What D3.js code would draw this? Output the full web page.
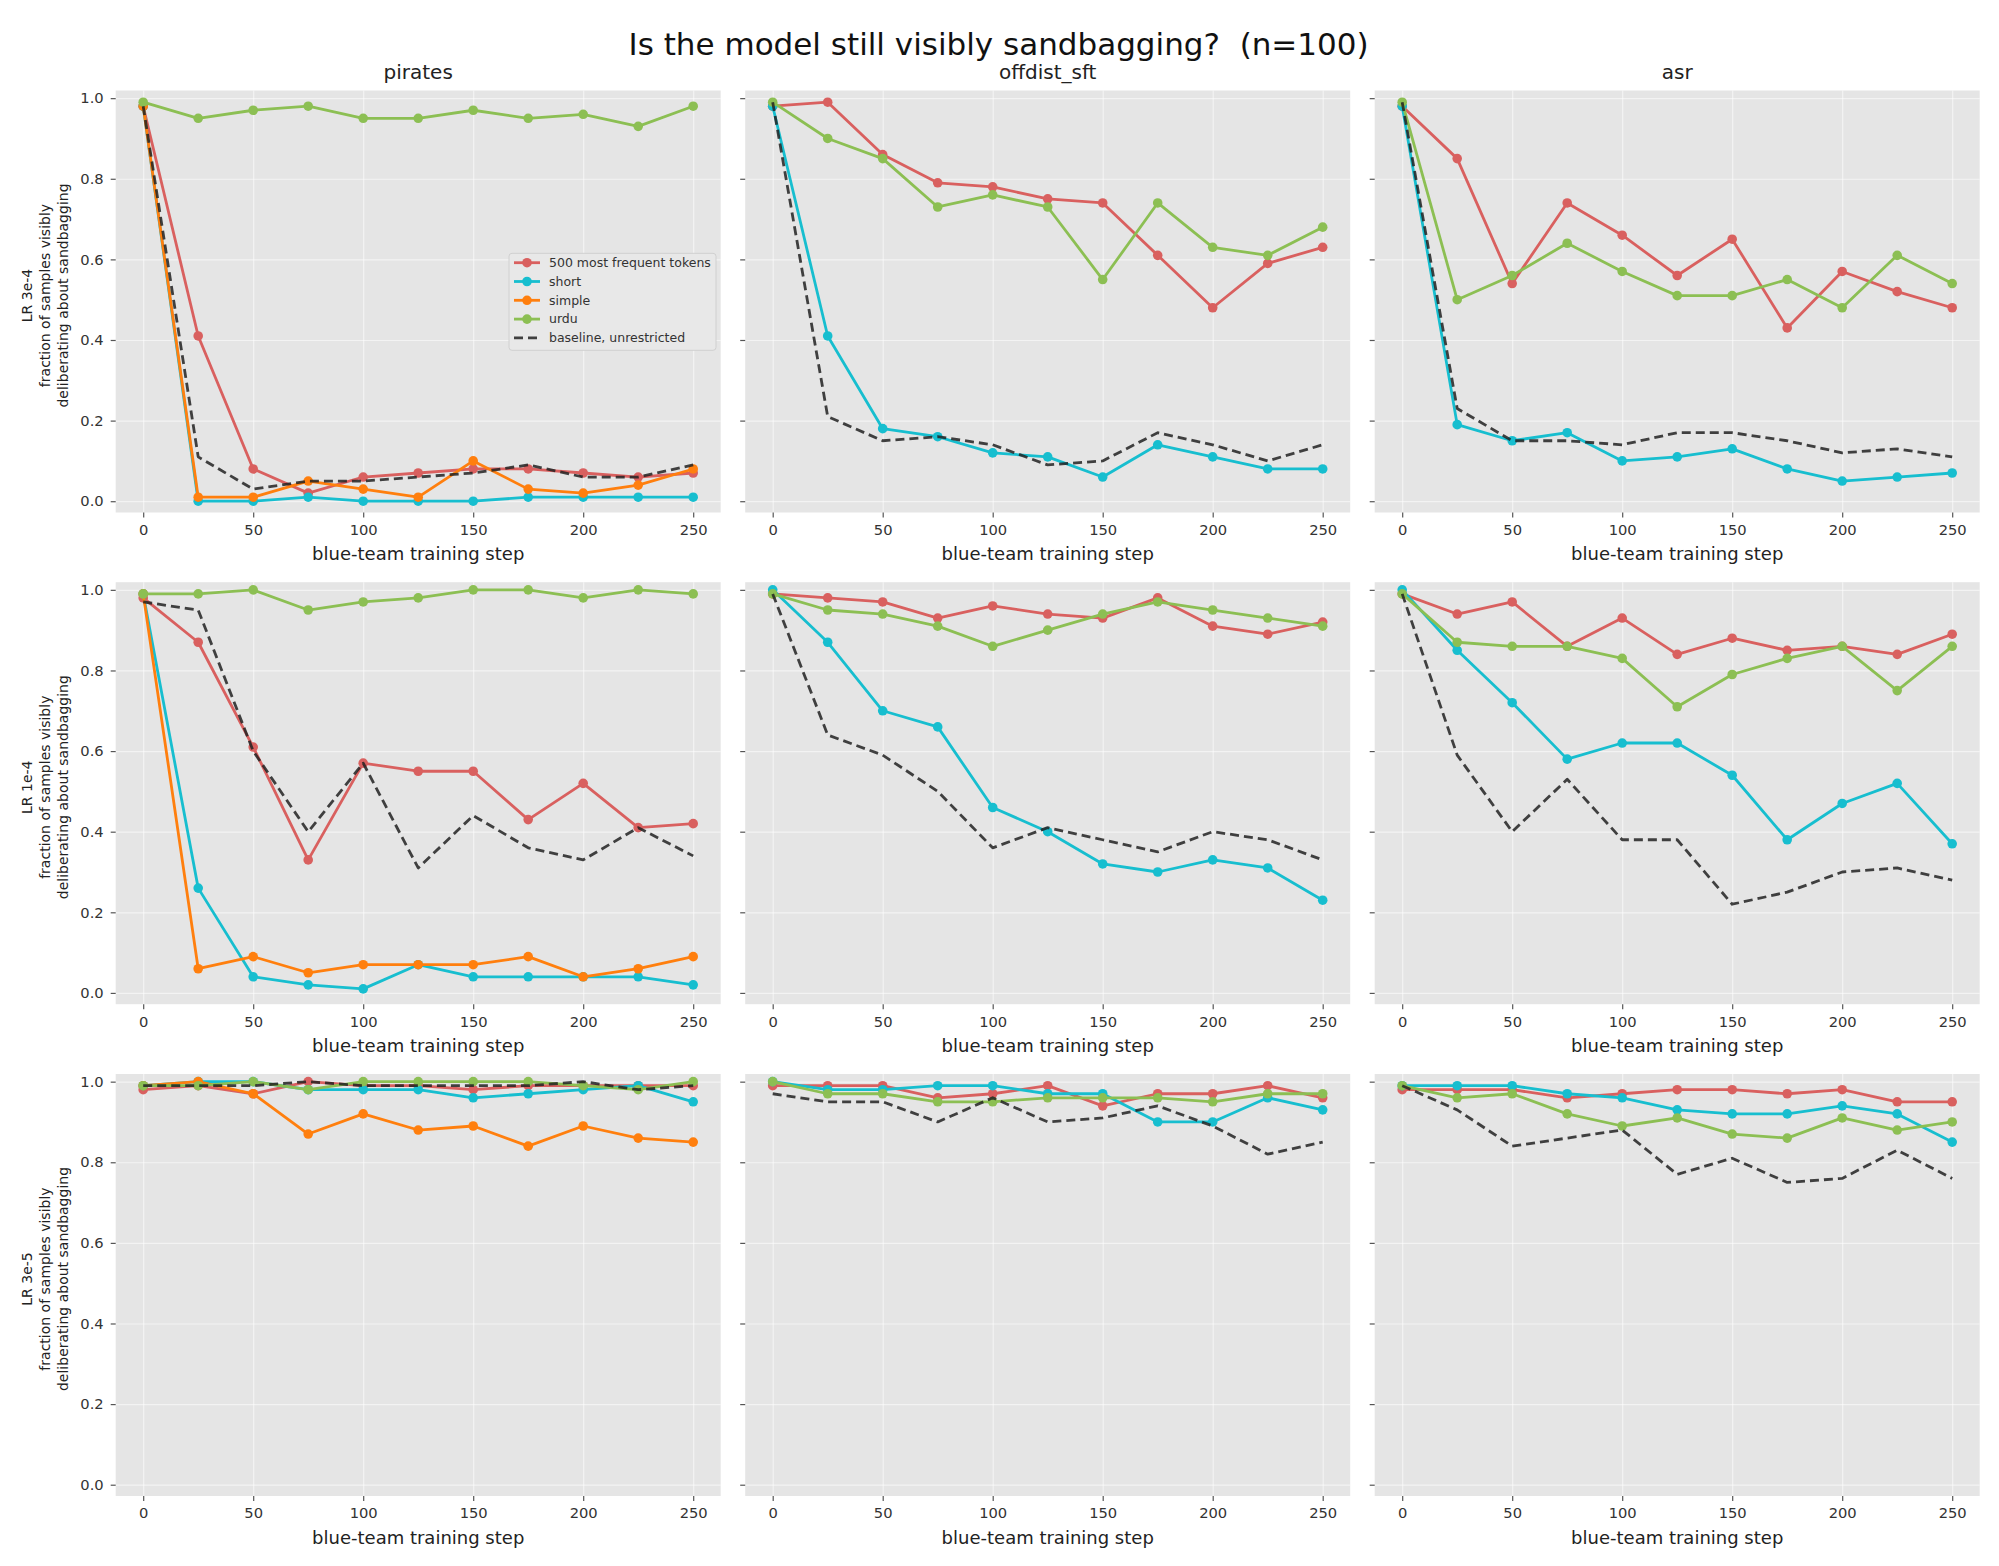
<!DOCTYPE html>
<meta charset="utf-8">
<script src="https://d3js.org/d3.v7.min.js"></script>
<style>
  body { margin: 0; background: #fff; }
  text { font-family: "DejaVu Sans", sans-serif; }
</style>
<div id="chart"></div>
<script>

// training steps on the x axis
var steps = [0, 25, 50, 75, 100, 125, 150, 175, 200, 225, 250];
var envs = ["pirates", "offdist_sft", "asr"];
var lrLabels = ["LR 3e-4", "LR 1e-4", "LR 3e-5"];
var seriesNames = ["500 most frequent tokens", "short", "simple", "urdu", "baseline, unrestricted"];
var seriesColors = ["#d9605f", "#17becf", "#ff7f0e", "#8cbf53", "#222222"];
var xTicks = [0, 50, 100, 150, 200, 250];
var yTicks = [0, 0.2, 0.4, 0.6, 0.8, 1.0];

// values per series, one array per env: [pirates, offdist_sft, asr] (null = not run)
var tokens_3e4 = [
  [0.98, 0.41, 0.08, 0.02, 0.06, 0.07, 0.08, 0.08, 0.07, 0.06, 0.07],
  [0.98, 0.99, 0.86, 0.79, 0.78, 0.75, 0.74, 0.61, 0.48, 0.59, 0.63],
  [0.98, 0.85, 0.54, 0.74, 0.66, 0.56, 0.65, 0.43, 0.57, 0.52, 0.48]];
var short_3e4 = [
  [0.98, 0.00, 0.00, 0.01, 0.00, 0.00, 0.00, 0.01, 0.01, 0.01, 0.01],
  [0.98, 0.41, 0.18, 0.16, 0.12, 0.11, 0.06, 0.14, 0.11, 0.08, 0.08],
  [0.98, 0.19, 0.15, 0.17, 0.10, 0.11, 0.13, 0.08, 0.05, 0.06, 0.07]];
var simple_3e4 = [
  [0.98, 0.01, 0.01, 0.05, 0.03, 0.01, 0.10, 0.03, 0.02, 0.04, 0.08], null, null];
var urdu_3e4 = [
  [0.99, 0.95, 0.97, 0.98, 0.95, 0.95, 0.97, 0.95, 0.96, 0.93, 0.98],
  [0.99, 0.90, 0.85, 0.73, 0.76, 0.73, 0.55, 0.74, 0.63, 0.61, 0.68],
  [0.99, 0.50, 0.56, 0.64, 0.57, 0.51, 0.51, 0.55, 0.48, 0.61, 0.54]];
var baseline_3e4 = [
  [0.98, 0.11, 0.03, 0.05, 0.05, 0.06, 0.07, 0.09, 0.06, 0.06, 0.09],
  [0.99, 0.21, 0.15, 0.16, 0.14, 0.09, 0.10, 0.17, 0.14, 0.10, 0.14],
  [0.99, 0.23, 0.15, 0.15, 0.14, 0.17, 0.17, 0.15, 0.12, 0.13, 0.11]];

var tokens_1e4 = [
  [0.98, 0.87, 0.61, 0.33, 0.57, 0.55, 0.55, 0.43, 0.52, 0.41, 0.42],
  [0.99, 0.98, 0.97, 0.93, 0.96, 0.94, 0.93, 0.98, 0.91, 0.89, 0.92],
  [0.99, 0.94, 0.97, 0.86, 0.93, 0.84, 0.88, 0.85, 0.86, 0.84, 0.89]];
var short_1e4 = [
  [0.99, 0.26, 0.04, 0.02, 0.01, 0.07, 0.04, 0.04, 0.04, 0.04, 0.02],
  [1.00, 0.87, 0.70, 0.66, 0.46, 0.40, 0.32, 0.30, 0.33, 0.31, 0.23],
  [1.00, 0.85, 0.72, 0.58, 0.62, 0.62, 0.54, 0.38, 0.47, 0.52, 0.37]];
var simple_1e4 = [
  [0.99, 0.06, 0.09, 0.05, 0.07, 0.07, 0.07, 0.09, 0.04, 0.06, 0.09], null, null];
var urdu_1e4 = [
  [0.99, 0.99, 1.00, 0.95, 0.97, 0.98, 1.00, 1.00, 0.98, 1.00, 0.99],
  [0.99, 0.95, 0.94, 0.91, 0.86, 0.90, 0.94, 0.97, 0.95, 0.93, 0.91],
  [0.99, 0.87, 0.86, 0.86, 0.83, 0.71, 0.79, 0.83, 0.86, 0.75, 0.86]];
var baseline_1e4 = [
  [0.97, 0.95, 0.60, 0.40, 0.57, 0.31, 0.44, 0.36, 0.33, 0.41, 0.34],
  [0.99, 0.64, 0.59, 0.50, 0.36, 0.41, 0.38, 0.35, 0.40, 0.38, 0.33],
  [0.99, 0.59, 0.40, 0.53, 0.38, 0.38, 0.22, 0.25, 0.30, 0.31, 0.28]];

var tokens_3e5 = [
  [0.98, 0.99, 0.97, 1.00, 0.99, 0.99, 0.98, 0.99, 0.99, 0.99, 0.99],
  [0.99, 0.99, 0.99, 0.96, 0.97, 0.99, 0.94, 0.97, 0.97, 0.99, 0.96],
  [0.98, 0.98, 0.98, 0.96, 0.97, 0.98, 0.98, 0.97, 0.98, 0.95, 0.95]];
var short_3e5 = [
  [0.99, 1.00, 1.00, 0.98, 0.98, 0.98, 0.96, 0.97, 0.98, 0.99, 0.95],
  [1.00, 0.98, 0.98, 0.99, 0.99, 0.97, 0.97, 0.90, 0.90, 0.96, 0.93],
  [0.99, 0.99, 0.99, 0.97, 0.96, 0.93, 0.92, 0.92, 0.94, 0.92, 0.85]];
var simple_3e5 = [
  [0.99, 1.00, 0.97, 0.87, 0.92, 0.88, 0.89, 0.84, 0.89, 0.86, 0.85], null, null];
var urdu_3e5 = [
  [0.99, 0.99, 1.00, 0.98, 1.00, 1.00, 1.00, 1.00, 0.99, 0.98, 1.00],
  [1.00, 0.97, 0.97, 0.95, 0.95, 0.96, 0.96, 0.96, 0.95, 0.97, 0.97],
  [0.99, 0.96, 0.97, 0.92, 0.89, 0.91, 0.87, 0.86, 0.91, 0.88, 0.90]];
var baseline_3e5 = [
  [0.99, 0.99, 0.99, 1.00, 0.99, 0.99, 0.99, 0.99, 1.00, 0.98, 0.99],
  [0.97, 0.95, 0.95, 0.90, 0.96, 0.90, 0.91, 0.94, 0.89, 0.82, 0.85],
  [0.99, 0.93, 0.84, 0.86, 0.88, 0.77, 0.81, 0.75, 0.76, 0.83, 0.76]];

// rows of the grid, series in draw order
var rows = [
  [tokens_3e4, short_3e4, simple_3e4, urdu_3e4, baseline_3e4],
  [tokens_1e4, short_1e4, simple_1e4, urdu_1e4, baseline_1e4],
  [tokens_3e5, short_3e5, simple_3e5, urdu_3e5, baseline_3e5]];

// layout
var W = 1999, H = 1566;
var colLeft = [115.7, 745.2, 1374.7], panelW = 605;
var rowTop = [90.5, 582.2, 1074], panelH = 422;

var svg = d3.select("#chart")
  .append("svg")
  .attr("width", W)
  .attr("height", H);

svg.append("text")
  .attr("x", 998.6)
  .attr("y", 55)
  .attr("text-anchor", "middle")
  .style("font-size", "31px")
  .style("white-space", "pre")
  .style("fill", "#111")
  .text("Is the model still visibly sandbagging?  (n=100)");

var x = d3.scaleLinear().domain([-12.5, 262.5]).range([0, panelW]);
var y = d3.scaleLinear().domain([-0.028, 1.019]).range([panelH, 0]);

var line = d3.line()
  .x(function(d, i) { return x(steps[i]); })
  .y(function(d) { return y(d); });

rows.forEach(function(series, r) {
  envs.forEach(function(env, c) {
    var g = svg.append("g")
      .attr("transform", "translate(" + colLeft[c] + "," + rowTop[r] + ")");

    g.append("rect")
      .attr("width", panelW)
      .attr("height", panelH)
      .attr("fill", "#e5e5e5");

    // grid
    g.append("g")
      .call(d3.axisLeft(y).tickValues(yTicks).tickSize(-panelW).tickFormat(""))
      .call(function(a) {
        a.select(".domain").remove();
        a.selectAll("line").attr("stroke", "#fff").attr("stroke-opacity", 0.55).attr("stroke-width", 1.2);
      });
    g.append("g")
      .attr("transform", "translate(0," + panelH + ")")
      .call(d3.axisBottom(x).tickValues(xTicks).tickSize(-panelH).tickFormat(""))
      .call(function(a) {
        a.select(".domain").remove();
        a.selectAll("line").attr("stroke", "#fff").attr("stroke-opacity", 0.55).attr("stroke-width", 1.2);
      });

    // axes
    var yAxis = g.append("g")
      .call(d3.axisLeft(y).tickValues(yTicks).tickSize(5).tickPadding(7)
        .tickFormat(c == 0 ? d3.format(".1f") : ""));
    var xAxis = g.append("g")
      .attr("transform", "translate(0," + panelH + ")")
      .call(d3.axisBottom(x).tickValues(xTicks).tickSize(5).tickPadding(7));
    [yAxis, xAxis].forEach(function(a) {
      a.select(".domain").remove();
      a.selectAll("line").attr("stroke", "#555").attr("stroke-width", 1.2);
      a.selectAll("text")
        .style("font-family", "DejaVu Sans")
        .style("font-size", "14.7px")
        .attr("fill", "#333");
    });

    // series
    series.forEach(function(vals, s) {
      var v = vals[c];
      if (!v) return;
      var isBase = s == 4;
      g.append("path")
        .datum(v)
        .attr("d", line)
        .attr("fill", "none")
        .attr("stroke", seriesColors[s])
        .attr("stroke-width", 2.8)
        .attr("stroke-opacity", isBase ? 0.85 : 1)
        .attr("stroke-dasharray", isBase ? "9,5" : null)
        .attr("stroke-linejoin", "round");
      if (!isBase) {
        g.selectAll(".pt" + s)
          .data(v)
          .join("circle")
          .attr("cx", function(d, i) { return x(steps[i]); })
          .attr("cy", function(d) { return y(d); })
          .attr("r", 4.8)
          .attr("fill", seriesColors[s]);
      }
    });

    if (r == 0) {
      g.append("text")
        .attr("x", panelW / 2)
        .attr("y", 79 - rowTop[0])
        .attr("text-anchor", "middle")
        .style("font-size", "20px")
        .style("fill", "#222")
        .text(env);
    }

    g.append("text")
      .attr("x", panelW / 2)
      .attr("y", panelH + 47.5)
      .attr("text-anchor", "middle")
      .style("font-size", "18px")
      .style("fill", "#222")
      .text("blue-team training step");
  });

  // row label, three lines rotated
  var lbl = [lrLabels[r], "fraction of samples visibly", "deliberating about sandbagging"];
  var cy = rowTop[r] + 205;
  [27, 45, 63].forEach(function(lx, k) {
    svg.append("text")
      .attr("transform", "translate(" + lx + "," + cy + ") rotate(-90)")
      .attr("text-anchor", "middle")
      .attr("dy", "0.35em")
      .style("font-size", "14px")
      .style("fill", "#222")
      .text(lbl[k]);
  });
});

// legend in the top-left panel
var leg = svg.append("g").attr("transform", "translate(509,253.3)");
leg.append("rect")
  .attr("width", 207)
  .attr("height", 97)
  .attr("rx", 3)
  .attr("fill", "#e8e8e8")
  .attr("stroke", "#d0d0d0")
  .attr("stroke-width", 1);
seriesNames.forEach(function(name, s) {
  var ly = 9.4 + s * 18.8;
  var isBase = s == 4;
  leg.append("line")
    .attr("x1", 5).attr("x2", 31)
    .attr("y1", ly).attr("y2", ly)
    .attr("stroke", seriesColors[s])
    .attr("stroke-width", 2.8)
    .attr("stroke-opacity", isBase ? 0.85 : 1)
    .attr("stroke-dasharray", isBase ? "9,5" : null);
  if (!isBase) {
    leg.append("circle").attr("cx", 18).attr("cy", ly).attr("r", 4.8).attr("fill", seriesColors[s]);
  }
  leg.append("text")
    .attr("x", 40)
    .attr("y", ly)
    .attr("dy", "0.35em")
    .style("font-size", "12.5px")
    .style("fill", "#333")
    .text(name);
});

</script>
